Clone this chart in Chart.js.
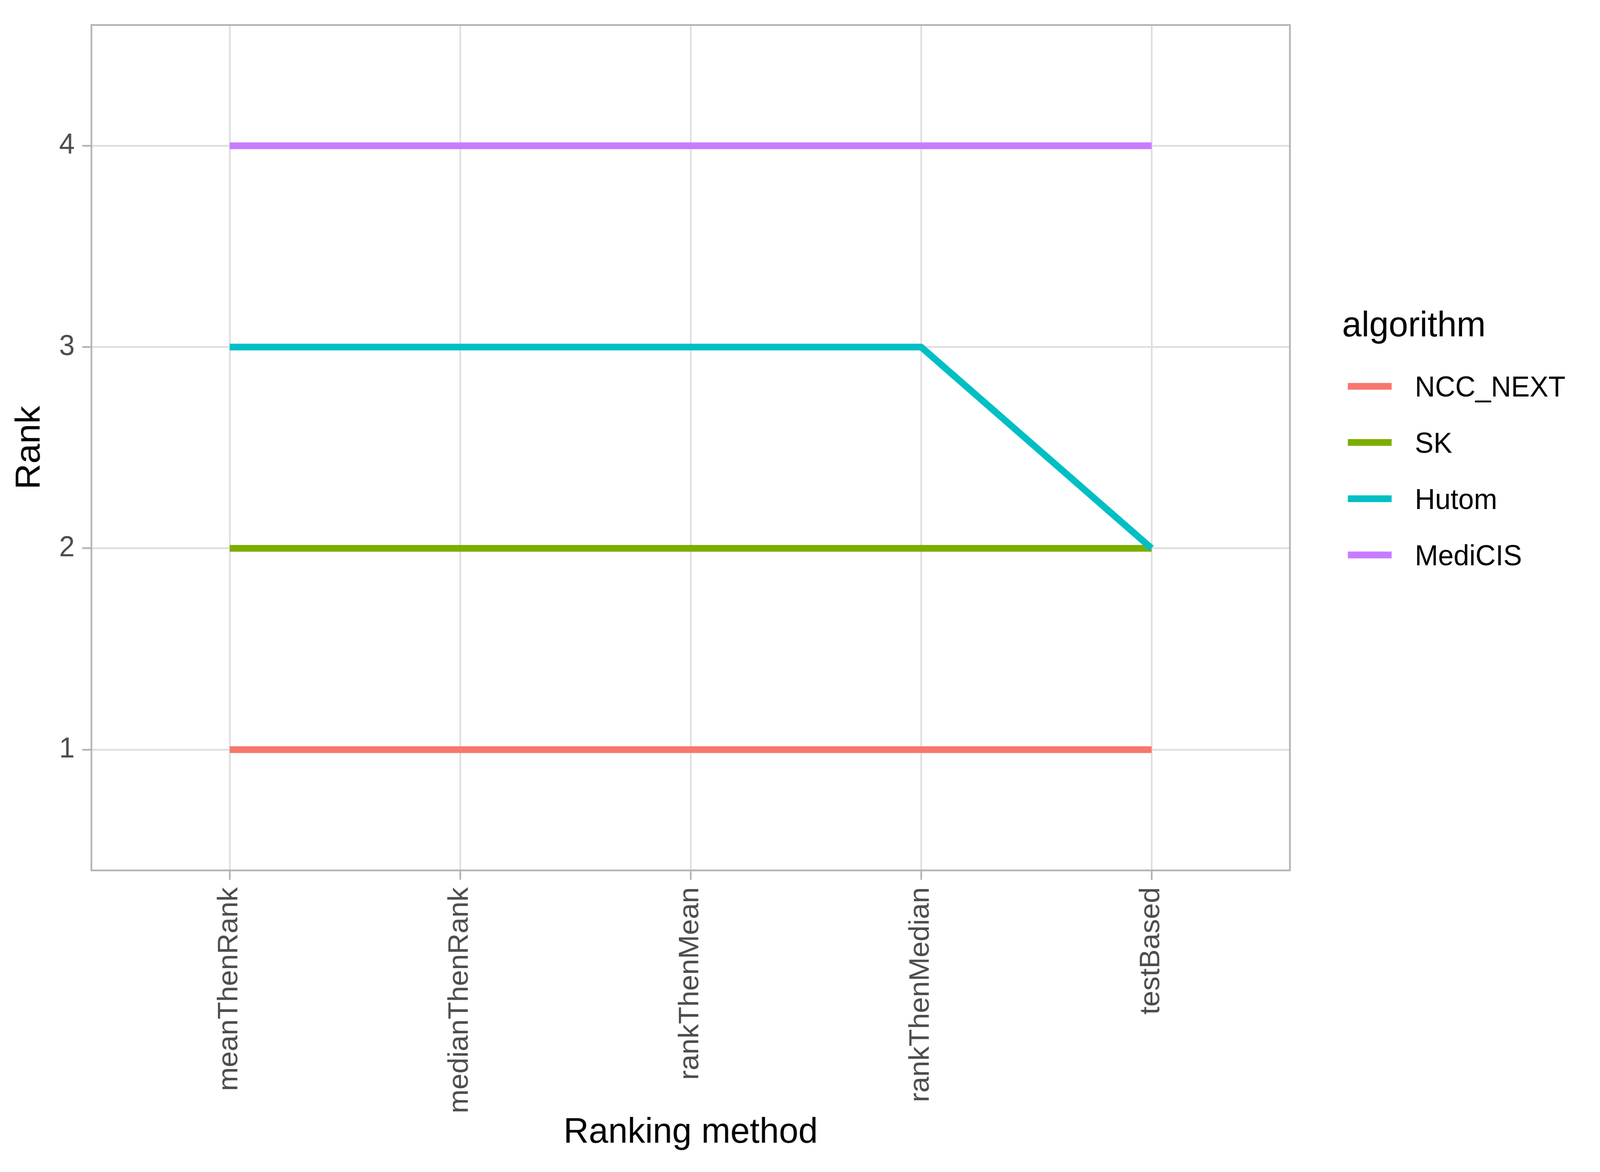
<!DOCTYPE html>
<html><head><meta charset="utf-8">
<script src="https://cdn.jsdelivr.net/npm/chart.js@4"></script>
<style>html,body{margin:0;padding:0;background:#fff;overflow:hidden}canvas{display:block;width:100vw;height:100vh}</style>
</head><body>
<canvas id="c" width="4200" height="3000" style="width:100vw;height:100vh"></canvas>
<script>
const categories = ['meanThenRank','medianThenRank','rankThenMean','rankThenMedian','testBased'];
const algorithms = ['NCC_NEXT','SK','Hutom','MediCIS'];
const rankNCC_NEXT = [1,1,1,1,1];
const rankSK = [2,2,2,2,2];
const rankHutom = [3,3,3,3,2];
const rankMediCIS = [4,4,4,4,4];
const yTicks = [1,2,3,4];
const colors = ['#F8766D','#7CAE00','#00BFC4','#C77CFF'];

const FONT = '"Liberation Sans", Arial, Helvetica, sans-serif';
const series = [rankNCC_NEXT, rankSK, rankHutom, rankMediCIS];
const datasets = algorithms.map((name,k)=>({
  label: name,
  data: categories.map((c,i)=>({x:i, y:series[k][i]})),
  borderColor: colors[k],
  backgroundColor: colors[k],
  borderWidth: 17.3,
  pointRadius: 0, pointHoverRadius: 0,
  tension: 0, fill: false,
  borderJoinStyle: 'round', borderCapStyle: 'butt',
  order: algorithms.length - 1 - k
}));

const borderPlugin = {
  id: 'panelBorder',
  afterDatasetsDraw(chart){
    const {left,top,right,bottom} = chart.chartArea;
    const ctx = chart.ctx;
    ctx.save();
    ctx.strokeStyle = '#B3B3B3';
    ctx.lineWidth = 4.5;
    ctx.strokeRect(left, top, right-left, bottom-top);
    ctx.restore();
  }
};

const legendPlugin = {
  id: 'ggLegend',
  afterDraw(chart){
    const ctx = chart.ctx;
    ctx.save();
    ctx.fillStyle = '#000';
    ctx.textAlign = 'left';
    ctx.textBaseline = 'alphabetic';
    ctx.font = '91.67px ' + FONT;
    ctx.fillText('algorithm', 3523, 861);
    ctx.font = '73.33px ' + FONT;
    chart.data.datasets.forEach((ds,i)=>{
      const cy = 988.8 + i*143.9;
      ctx.strokeStyle = ds.borderColor;
      ctx.lineWidth = 17.3;
      ctx.lineCap = 'butt';
      ctx.beginPath(); ctx.moveTo(3538, cy); ctx.lineTo(3653, cy); ctx.stroke();
      ctx.fillText(ds.label, 3714, cy + 26.3);
    });
    ctx.restore();
  }
};

const gridOpts = { color:'#DEDEDE', lineWidth:4.4, tickLength:24, tickColor:'#B3B3B3', tickWidth:4.4, drawTicks:true };

new Chart(document.getElementById('c'), {
  type: 'line',
  data: { datasets },
  options: {
    responsive: false,
    devicePixelRatio: 1,
    animation: false,
    layout: { padding: { left:0, top:47, right:814, bottom:0 } },
    plugins: { legend: { display:false }, tooltip: { enabled:false } },
    scales: {
      x: {
        type: 'linear', min: -0.6, max: 4.6,
        afterBuildTicks: s => { s.ticks = categories.map((c,i)=>({value:i})); },
        afterFit: s => { s.height = 772; },
        grid: gridOpts,
        border: { display:false },
        ticks: {
          callback: (v) => categories[v],
          minRotation: 90, maxRotation: 90, autoSkip: false,
          padding: 19, color:'#4D4D4D',
          font: { family: FONT, size: 73.33 }
        },
        title: { display:true, text:'Ranking method', color:'#000',
          font: { family: FONT, size: 91.67, lineHeight: 1 },
          padding: { top:0, bottom:54 } }
      },
      y: {
        type: 'linear', min: 0.4, max: 4.6,
        afterBuildTicks: s => { s.ticks = yTicks.map(v=>({value:v})); },
        afterFit: s => { s.width = 240; },
        grid: gridOpts,
        border: { display:false },
        ticks: {
          callback: (v) => String(v),
          padding: 20, color:'#4D4D4D',
          font: { family: FONT, size: 73.33 }
        },
        title: { display:true, text:'Rank', color:'#000',
          font: { family: FONT, size: 91.67, lineHeight: 1 },
          padding: { top:33, bottom:0 } }
      }
    }
  },
  plugins: [borderPlugin, legendPlugin]
});
</script>
</body></html>
